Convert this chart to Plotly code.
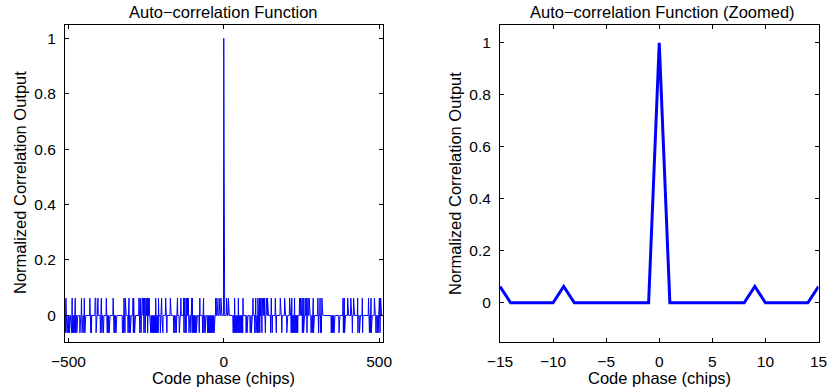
import plotly.graph_objects as go

# ---- data ----
lag_min, lag_max = -511, 511
peak_value = 1.0
high_value = 0.0616
low_value = -0.0635
base_value = -0.001

high_lags = [-508, -488, -478, -458, -449, -431, -414, -413, -412, -406, -405, -394, -378, -356, -321, -317,
             -305, -292, -290, -273, -269, -263, -262, -261, -258, -255, -254, -250, -247, -246, -243, -240,
             -219, -210, -200, -187, -172, -149, -138, -129, -127, -125, -120, -117, -114, -103,
             -101, -77, -65, -26, -22, -15, -9, 9, 15, 35, 47, 62, 94,
             103, 110, 112, 115, 117, 120, 124, 128, 131, 133, 137, 141, 153, 166, 182, 196, 212, 219, 228,
             244, 247, 252, 256, 262, 266, 271, 275, 288, 303,
             310, 316, 384, 388, 399, 409, 418, 431, 446, 466, 474, 485, 501, 505]

low_lags = [-510, -507, -505, -504, -500, -497, -495, -492, -490, -487, -484, -481, -477, -476, -473, -463,
            -461, -456, -450, -447, -445, -430, -428, -426, -411, -409, -397, -395, -392, -389, -387, -377,
            -375, -372, -369, -355, -353, -350, -347, -326, -322, -318,
            -308, -304, -301, -291, -287, -270, -266, -257, -253, -245, -237, -235, -232, -229, -226, -223,
            -220, -217, -214, -211, -204, -198, -196, -185, -183, -161, -157, -153, -143, -128, -124, -121, -112,
            -106, -103, -100, -97, -94, -91, -88, -86, -79, -68, -64, -60, -52, -49, -46, -43, -40, -37, -34, -31,
            30, 31, 34, 37, 40, 43, 46, 49, 52, 55, 58, 61, 72, 75, 85, 89,
            100, 104, 106, 109, 113, 116, 123, 134, 151, 156, 169, 187, 203, 217, 220, 223, 226, 229, 232, 235,
            238, 253, 257, 268, 281, 285, 289, 305,
            311, 314, 346, 349, 352, 355, 371, 385, 389, 414, 432, 437, 447, 467, 469, 472, 475, 490, 494, 497, 503]

zoom_range = [-15, 15]

# ---- build series ----
lags = list(range(lag_min, lag_max + 1))
hs, ls = set(high_lags), set(low_lags)
values = []
for k in lags:
    if k == 0:
        values.append(peak_value)
    elif k in hs:
        values.append(high_value)
    elif k in ls:
        values.append(low_value)
    else:
        values.append(base_value)

zoom_lags = [k for k in lags if zoom_range[0] <= k <= zoom_range[1]]
zoom_vals = [v for k, v in zip(lags, values) if zoom_range[0] <= k <= zoom_range[1]]

FONT = "Liberation Sans, Arial, Helvetica, sans-serif"
W, H = 829, 391

fig = go.Figure()
fig.add_trace(go.Scatter(x=lags, y=values, mode="lines", line=dict(color="#0000ff", width=1),
                         xaxis="x", yaxis="y", hoverinfo="skip"))
fig.add_trace(go.Scatter(x=zoom_lags, y=zoom_vals, mode="lines", line=dict(color="#0000ff", width=3),
                         xaxis="x2", yaxis="y2", hoverinfo="skip"))

L1, R1 = 65, 382.5
L2, R2 = 500, 818.5
TOP, BOT = 24.5, 341.5

def px2x(p):
    return p / W

def px2y(p):
    return 1 - p / H

axis_common = dict(showgrid=False, zeroline=False, showline=True, linecolor="black", linewidth=1,
                   mirror="ticks", ticks="inside", ticklen=4, tickcolor="black", tickwidth=1,
                   automargin=False,
                   tickfont=dict(family=FONT, size=15.5, color="black"))

fig.update_layout(
    template="none",
    width=W, height=H, margin=dict(l=0, r=0, t=0, b=0, pad=0),
    paper_bgcolor="white", plot_bgcolor="white", showlegend=False,
    xaxis=dict(domain=[px2x(L1), px2x(R1)], range=[lag_min, lag_max], tickvals=[-500, 0, 500],
               anchor="y", ticklabelstandoff=6, **axis_common),
    yaxis=dict(domain=[px2y(BOT), px2y(TOP)], range=[-0.095, 1.05], tickvals=[0, 0.2, 0.4, 0.6, 0.8, 1],
               anchor="x", ticklabelstandoff=5, **axis_common),
    xaxis2=dict(domain=[px2x(L2), px2x(R2)], range=zoom_range, tickvals=[-15, -10, -5, 0, 5, 10, 15],
                anchor="y2", ticklabelstandoff=6, **axis_common),
    yaxis2=dict(domain=[px2y(BOT), px2y(TOP)], range=[-0.15, 1.07], tickvals=[0, 0.2, 0.4, 0.6, 0.8, 1],
                anchor="x2", ticklabelstandoff=5, **axis_common),
)

lab = dict(family=FONT, size=16.5, color="black")
ann = [
    dict(text="Auto−correlation Function", x=px2x((L1 + R1) / 2), y=px2y(12)),
    dict(text="Auto−correlation Function (Zoomed)", x=px2x(662), y=px2y(12)),
    dict(text="Code phase (chips)", x=px2x((L1 + R1) / 2), y=px2y(378)),
    dict(text="Code phase (chips)", x=px2x((L2 + R2) / 2), y=px2y(378)),
    dict(text="Normalized Correlation Output", x=px2x(20), y=px2y((TOP + BOT) / 2), textangle=-90),
    dict(text="Normalized Correlation Output", x=px2x(455), y=px2y((TOP + BOT) / 2), textangle=-90),
]
for a in ann:
    a.update(xref="paper", yref="paper", showarrow=False, font=lab, xanchor="center", yanchor="middle")
fig.update_layout(annotations=ann)

fig.write_html("out.html")
